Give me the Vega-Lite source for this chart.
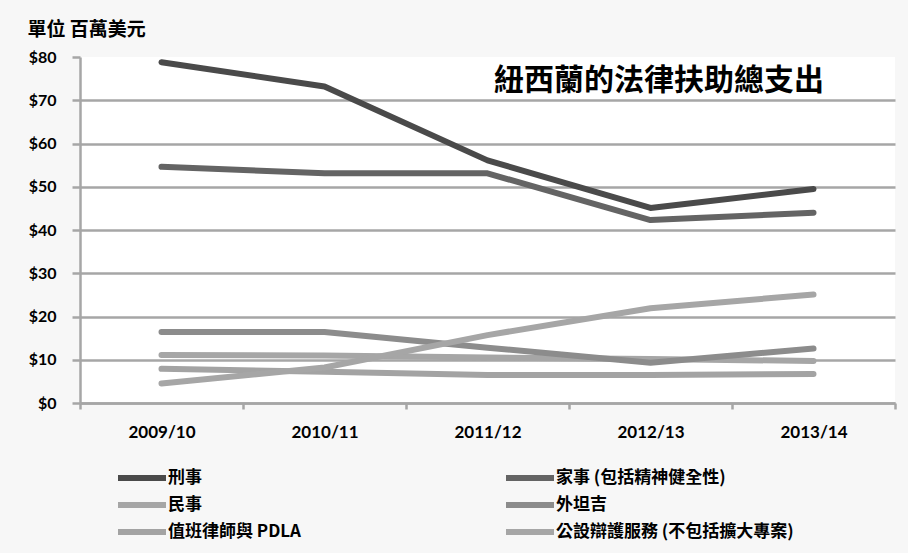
{
  "$schema": "https://vega.github.io/schema/vega-lite/v6.json",
  "width": 815,
  "height": 346,
  "autosize": {"type": "none"},
  "padding": {"left": 80, "top": 57, "right": 13, "bottom": 150},
  "background": "#f7f7f7",
  "title": {
    "text": "紐西蘭的法律扶助總支出",
    "anchor": "end",
    "frame": "group",
    "orient": "top",
    "offset": 0,
    "dx": -71,
    "dy": 100,
    "baseline": "alphabetic",
    "font": "Noto Sans CJK TC",
    "fontSize": 30,
    "fontWeight": "bold",
    "color": "#000000"
  },
  "config": {
    "view": {"fill": "#ffffff", "stroke": null},
    "axis": {
      "domainColor": "#a6a6a6",
      "domainWidth": 2.5,
      "tickColor": "#a6a6a6",
      "tickWidth": 2.5,
      "labelFont": "Lato",
      "labelFontWeight": "bold",
      "labelFontSize": 16,
      "labelColor": "#000000"
    }
  },
  "data": {
    "values": [
      {"year": "2009/10", "series": "刑事", "value": 78.8},
      {"year": "2010/11", "series": "刑事", "value": 73.2},
      {"year": "2011/12", "series": "刑事", "value": 56.1},
      {"year": "2012/13", "series": "刑事", "value": 45.1},
      {"year": "2013/14", "series": "刑事", "value": 49.5},
      {"year": "2009/10", "series": "家事 (包括精神健全性)", "value": 54.6},
      {"year": "2010/11", "series": "家事 (包括精神健全性)", "value": 53.1},
      {"year": "2011/12", "series": "家事 (包括精神健全性)", "value": 53.1},
      {"year": "2012/13", "series": "家事 (包括精神健全性)", "value": 42.3},
      {"year": "2013/14", "series": "家事 (包括精神健全性)", "value": 44.0},
      {"year": "2009/10", "series": "民事", "value": 11.1},
      {"year": "2010/11", "series": "民事", "value": 11.0},
      {"year": "2011/12", "series": "民事", "value": 10.5},
      {"year": "2012/13", "series": "民事", "value": 10.2},
      {"year": "2013/14", "series": "民事", "value": 9.7},
      {"year": "2009/10", "series": "外坦吉", "value": 16.4},
      {"year": "2010/11", "series": "外坦吉", "value": 16.4},
      {"year": "2011/12", "series": "外坦吉", "value": 12.8},
      {"year": "2012/13", "series": "外坦吉", "value": 9.3},
      {"year": "2013/14", "series": "外坦吉", "value": 12.6},
      {"year": "2009/10", "series": "值班律師與 PDLA", "value": 7.9},
      {"year": "2010/11", "series": "值班律師與 PDLA", "value": 7.2},
      {"year": "2011/12", "series": "值班律師與 PDLA", "value": 6.5},
      {"year": "2012/13", "series": "值班律師與 PDLA", "value": 6.5},
      {"year": "2013/14", "series": "值班律師與 PDLA", "value": 6.7},
      {"year": "2009/10", "series": "公設辯護服務 (不包括擴大專案)", "value": 4.5},
      {"year": "2010/11", "series": "公設辯護服務 (不包括擴大專案)", "value": 8.2},
      {"year": "2011/12", "series": "公設辯護服務 (不包括擴大專案)", "value": 15.7},
      {"year": "2012/13", "series": "公設辯護服務 (不包括擴大專案)", "value": 21.9},
      {"year": "2013/14", "series": "公設辯護服務 (不包括擴大專案)", "value": 25.1}
    ]
  },
  "mark": {"type": "line", "strokeWidth": 6, "strokeCap": "round", "strokeJoin": "round"},
  "encoding": {
    "x": {
      "field": "year",
      "type": "ordinal",
      "scale": {"paddingInner": 0, "paddingOuter": 0},
      "axis": {
        "title": null,
        "labelAngle": 0,
        "labelFontSize": 17,
        "tickBand": "extent",
        "tickSize": 6,
        "labelPadding": 15,
        "grid": false
      }
    },
    "y": {
      "field": "value",
      "type": "quantitative",
      "scale": {"domain": [0, 80], "nice": false},
      "axis": {
        "values": [0, 10, 20, 30, 40, 50, 60, 70, 80],
        "format": "$,.0f",
        "tickSize": 8,
        "labelPadding": 16,
        "grid": true,
        "gridColor": {"condition": {"test": "datum.value === 80", "value": "transparent"}, "value": "#a6a6a6"},
        "gridWidth": 2.5,
        "title": "單位 百萬美元",
        "titleAngle": 0,
        "titleAlign": "left",
        "titleBaseline": "top",
        "titleX": -53,
        "titleY": -37,
        "titleFont": "Noto Sans CJK TC",
        "titleFontSize": 19,
        "titleFontWeight": "bold",
        "titleColor": "#000000"
      }
    },
    "color": {
      "field": "series",
      "type": "nominal",
      "scale": {
        "domain": ["刑事", "家事 (包括精神健全性)", "民事", "外坦吉", "值班律師與 PDLA", "公設辯護服務 (不包括擴大專案)"],
        "range": ["#4a4a4a", "#646464", "#a6a6a6", "#8c8c8c", "#a3a3a3", "#a6a6a6"]
      },
      "legend": {
        "title": null,
        "orient": "none",
        "legendX": 53,
        "legendY": 412,
        "direction": "horizontal",
        "columns": 2,
        "columnPadding": 193,
        "rowPadding": 3,
        "padding": 0,
        "symbolType": "M-4,0H4",
        "symbolSize": 144,
        "symbolStrokeWidth": 6,
        "labelOffset": 17,
        "labelFont": "Noto Sans CJK TC",
        "labelFontWeight": "bold",
        "labelFontSize": 17,
        "labelColor": "#000000",
        "labelLimit": 400
      }
    },
    "order": {"field": "year"}
  }
}
